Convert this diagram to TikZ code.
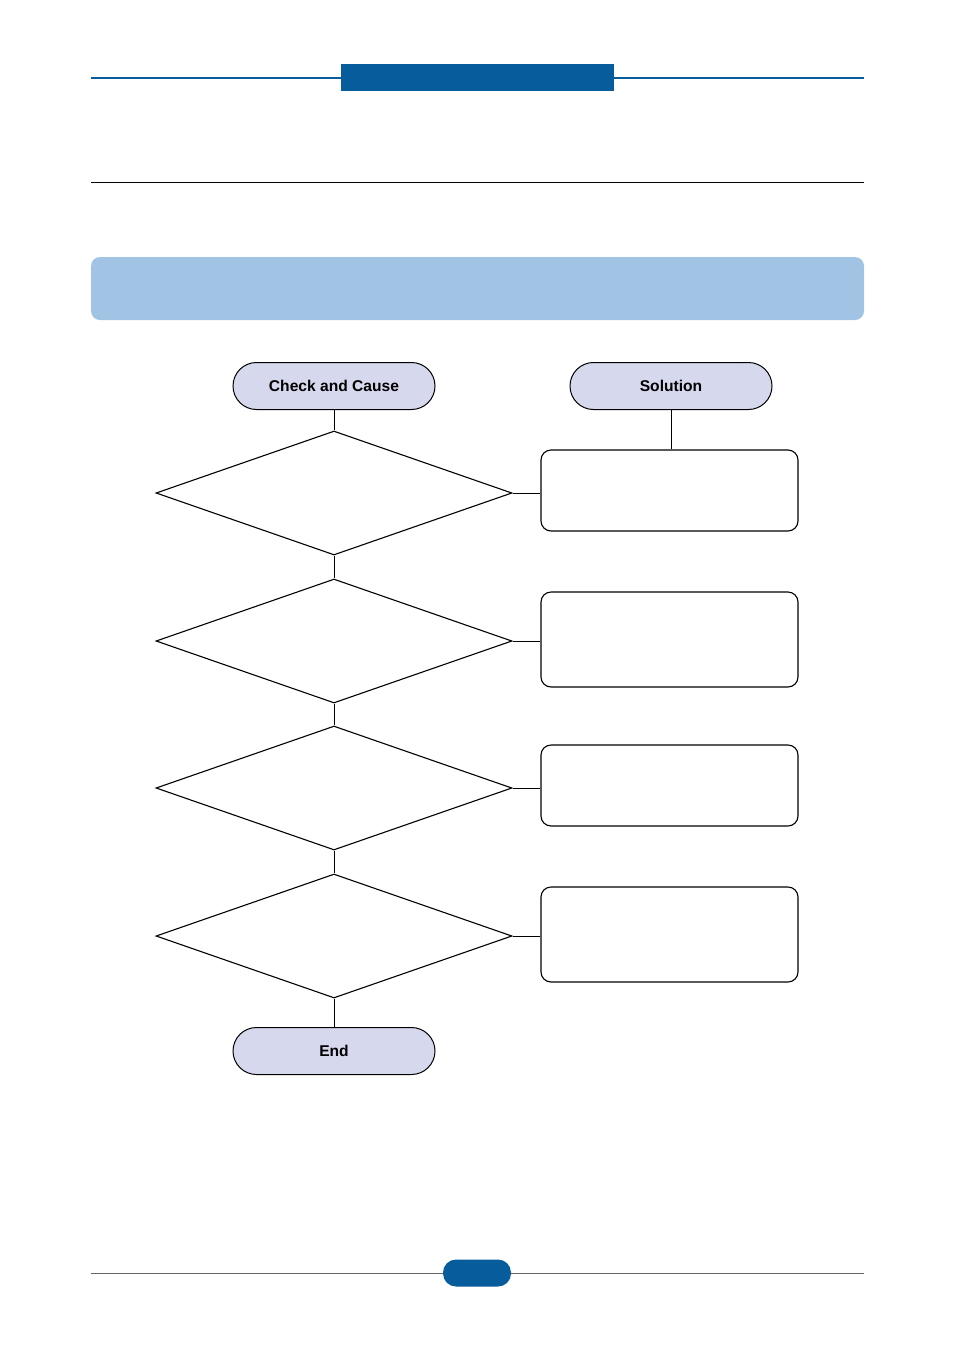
\documentclass[tikz,border=0pt]{standalone}
\usepackage{fontspec}
\setmainfont{Liberation Sans}
\usetikzlibrary{shapes.geometric}
\definecolor{hdrblue}{HTML}{075C9C}
\definecolor{barblue}{HTML}{A2C4E4}
\definecolor{termfill}{HTML}{D6D8EE}
\begin{document}
\begin{tikzpicture}[x=1pt,y=-1pt,
  term/.style={draw,line width=1pt,fill=termfill,rounded corners=23.5pt,minimum width=202pt,minimum height=47pt,inner sep=0pt,font=\fontsize{15.6}{18}\selectfont\bfseries},
  decis/.style={draw,line width=1.1pt,diamond,minimum width=356pt,minimum height=124pt,inner sep=0pt},
  solbox/.style={draw,line width=1.1pt,rounded corners=10pt,minimum width=257pt,inner sep=0pt},
  conn/.style={line width=1pt}]
\useasboundingbox (0,0) rectangle (954,1350);
% header
\draw[hdrblue,line width=2pt] (91,77.5) -- (864,77.5);
\fill[hdrblue] (341,64) rectangle (614,91);
\draw[black,line width=1pt] (91,182.5) -- (864,182.5);
\fill[barblue,rounded corners=9pt] (91,257) rectangle (864,320);
% footer
\draw[gray!80!black,line width=0.7pt] (91,1273) -- (864,1273);
\fill[hdrblue,rounded corners=13pt] (443,1259.5) rectangle (511,1286.5);
% flowchart
\node[term] (cc) at (334,386) {Check and Cause};
\node[term] (sol) at (671,386) {Solution};
\node[decis] (d1) at (334,493) {};
\node[decis] (d2) at (334,641) {};
\node[decis] (d3) at (334,788) {};
\node[decis] (d4) at (334,936) {};
\node[term] (end) at (334,1051) {End};
\node[solbox,minimum height=81pt] (b1) at (669.5,490.5) {};
\node[solbox,minimum height=95pt] (b2) at (669.5,639.5) {};
\node[solbox,minimum height=81pt] (b3) at (669.5,785.5) {};
\node[solbox,minimum height=95pt] (b4) at (669.5,934.5) {};
\draw[conn] (cc.south) -- (d1.north);
\draw[conn] (d1.south) -- (d2.north);
\draw[conn] (d2.south) -- (d3.north);
\draw[conn] (d3.south) -- (d4.north);
\draw[conn] (d4.south) -- (end.north);
\draw[conn] (sol.south) -- (sol.south |- b1.north);
\draw[conn] (d1.east) -- (d1.east -| b1.west);
\draw[conn] (d2.east) -- (d2.east -| b2.west);
\draw[conn] (d3.east) -- (d3.east -| b3.west);
\draw[conn] (d4.east) -- (d4.east -| b4.west);
\end{tikzpicture}
\end{document}
